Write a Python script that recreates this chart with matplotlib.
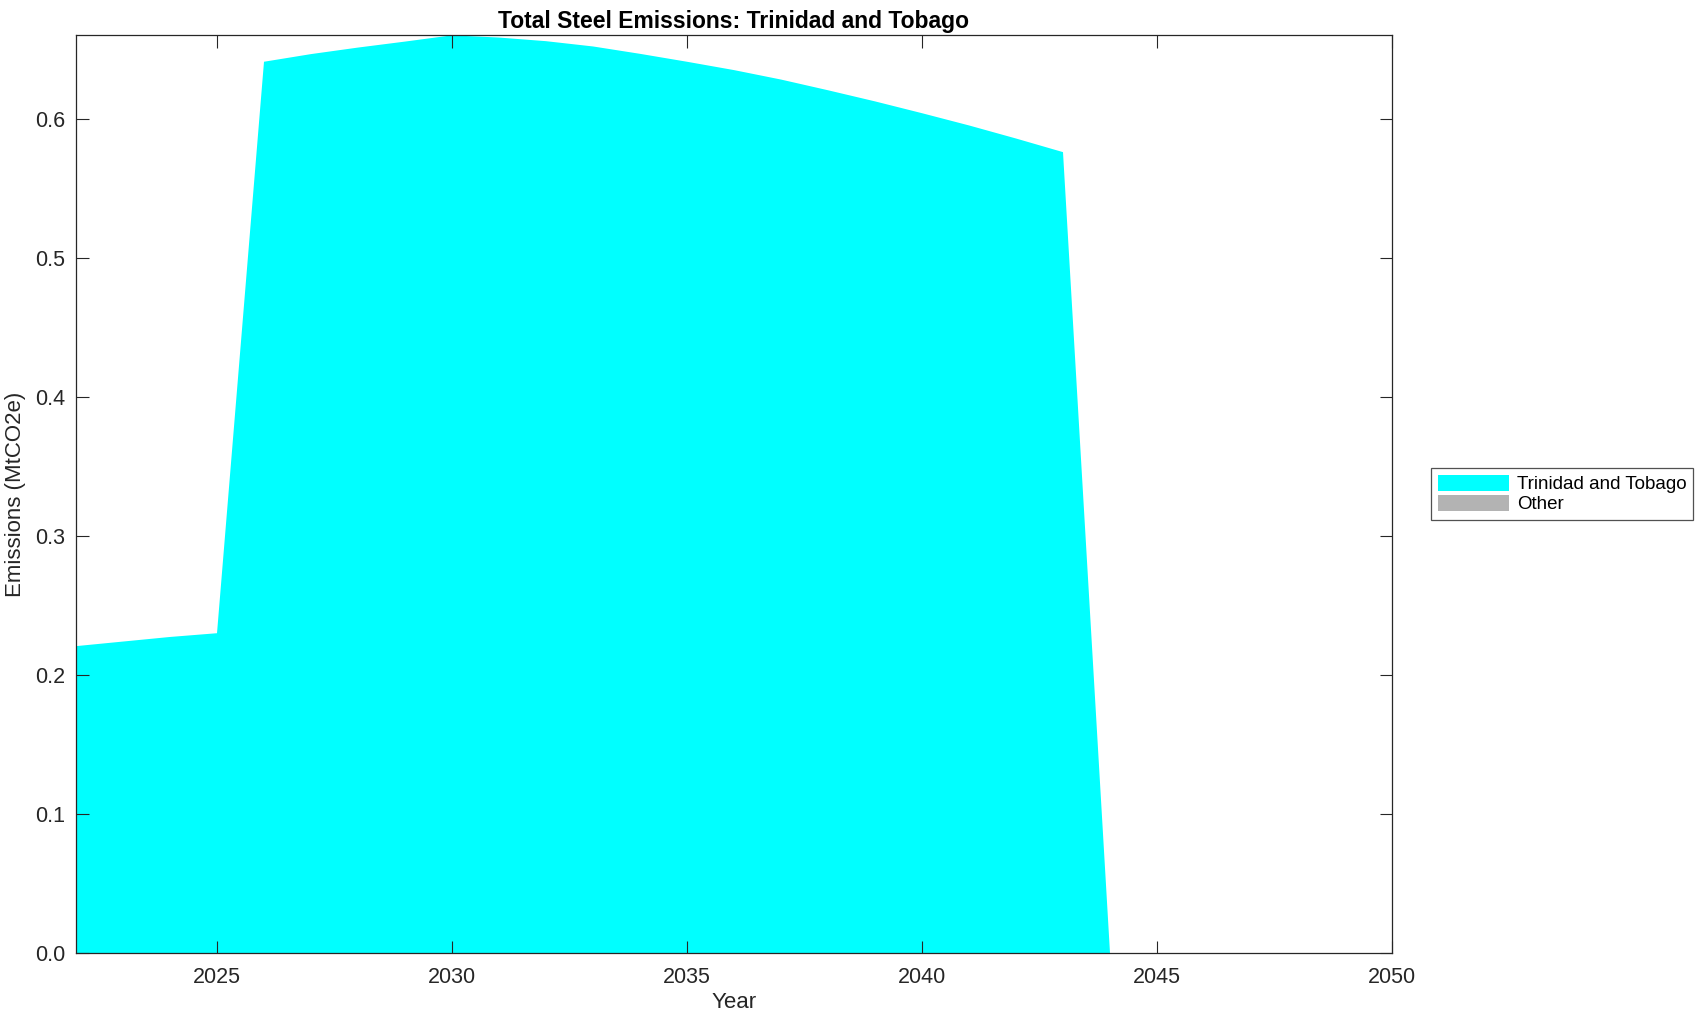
import numpy as np
import matplotlib
matplotlib.use('Agg')
import matplotlib.pyplot as plt
from matplotlib.ticker import FormatStrFormatter

plt.rcParams['font.family'] = ['Liberation Sans', 'DejaVu Sans']

years = np.arange(2022, 2051)
# emissions of the country (MtCO2e)
tt_values = [0.2207, 0.2240, 0.2273, 0.2300, 0.6410, 0.6465, 0.6512, 0.6555,
             0.6600, 0.6584, 0.6558, 0.6520, 0.6467, 0.6410, 0.6350, 0.6282,
             0.6205, 0.6125, 0.6040, 0.5952, 0.5858, 0.5760, 0.0, 0.0,
             0.0, 0.0, 0.0, 0.0, 0.0]
other_values = [0.0] * len(years)
series_names = ['Trinidad and Tobago', 'Other']
series_colors = ['#00ffff', '#b3b3b3']

fig = plt.figure(figsize=(17.04, 10.21), dpi=100)
ax = fig.add_axes([0.0446, 0.0666, 0.7723, 0.8988])

ax.stackplot(years, tt_values, other_values, labels=series_names,
             colors=series_colors, linewidth=0)

ax.set_xlim(2022, 2050)
ax.set_ylim(0, max(tt_values))
ax.set_xticks(np.arange(2025, 2051, 5))
ax.set_yticks(np.arange(0, 0.61, 0.1))
ax.yaxis.set_major_formatter(FormatStrFormatter('%.1f'))
ax.tick_params(direction='in', length=9, width=0.8, top=True, right=True,
               labelsize=15.5, colors='#262626')
ax.tick_params(axis='x', pad=10)
ax.tick_params(axis='y', pad=8)
for s in ax.spines.values():
    s.set_linewidth(0.9)
    s.set_color('#262626')

ax.set_title('Total Steel Emissions: Trinidad and Tobago', fontsize=16.5,
             fontweight='bold', pad=5)
ax.set_xlabel('Year', fontsize=16, color='#262626', labelpad=3)
ax.set_ylabel('Emissions (MtCO2e)', fontsize=16, color='#262626', labelpad=6)

leg = ax.legend(loc='center left', bbox_to_anchor=(1.03, 0.5), fontsize=13.5,
                frameon=True, fancybox=False, edgecolor='#262626',
                handlelength=3.8, handleheight=0.9, handletextpad=0.4,
                labelspacing=0.1, borderpad=0.35, borderaxespad=0)
leg.get_frame().set_linewidth(0.9)

fig.savefig('out.png', dpi=100)
